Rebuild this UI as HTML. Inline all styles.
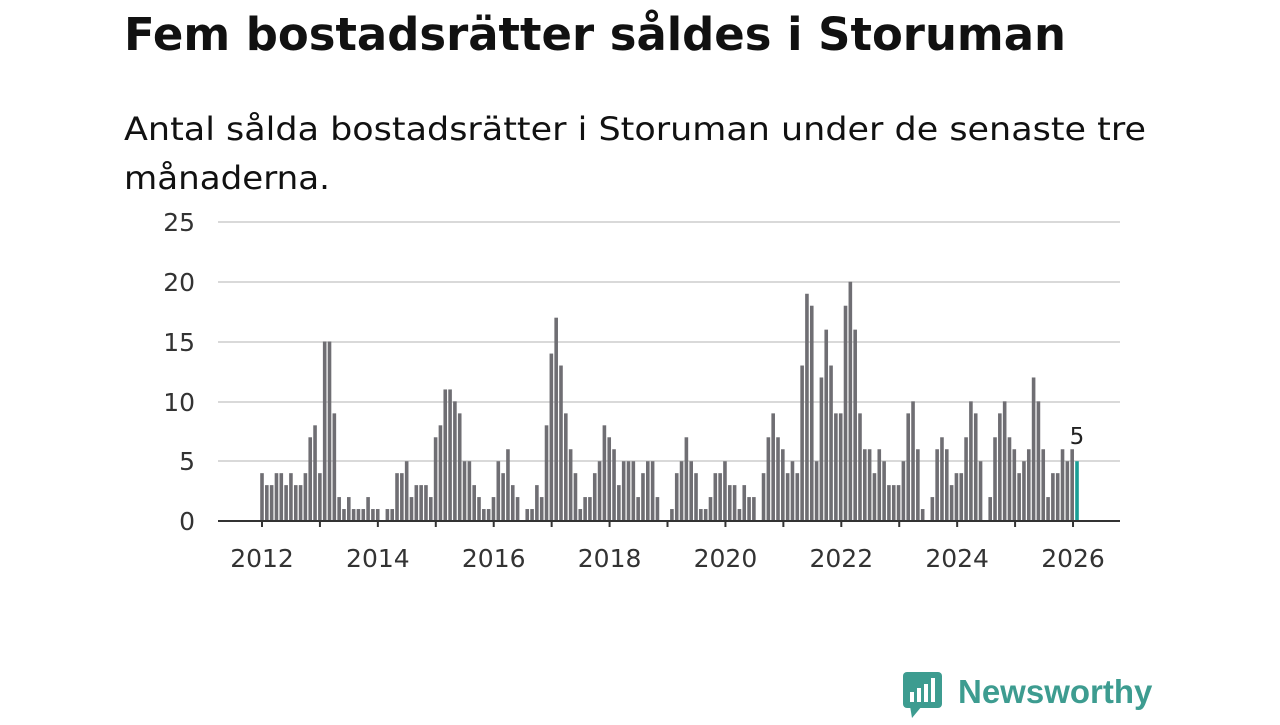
<!DOCTYPE html>
<html><head><meta charset="utf-8"><style>
body{margin:0;width:1280px;height:720px;background:#fff;overflow:hidden;font-family:"Liberation Sans","DejaVu Sans",sans-serif}
</style></head><body>
<svg width="1280" height="720" viewBox="0 0 1280 720" xmlns="http://www.w3.org/2000/svg" id="s">
<text x="124" y="50" font-family="DejaVu Sans, sans-serif" font-weight="bold" font-size="45" fill="#111" textLength="942" lengthAdjust="spacingAndGlyphs">Fem bostadsrätter såldes i Storuman</text>
<text x="124" y="140" font-family="DejaVu Sans, sans-serif" font-size="32" fill="#111" textLength="1022" lengthAdjust="spacingAndGlyphs">Antal sålda bostadsrätter i Storuman under de senaste tre</text>
<text x="124" y="189" font-family="DejaVu Sans, sans-serif" font-size="32" fill="#111" textLength="206" lengthAdjust="spacingAndGlyphs">månaderna.</text>
<g stroke="#d9d9d9" stroke-width="2">
<line x1="218" x2="1120" y1="222" y2="222"/><line x1="218" x2="1120" y1="282" y2="282"/>
<line x1="218" x2="1120" y1="342" y2="342"/><line x1="218" x2="1120" y1="402" y2="402"/>
<line x1="218" x2="1120" y1="461" y2="461"/></g>
<g font-family="DejaVu Sans, sans-serif" font-size="25" fill="#333" text-anchor="end">
<text x="195" y="231">25</text><text x="195" y="291">20</text><text x="195" y="351">15</text>
<text x="195" y="411">10</text><text x="195" y="470">5</text><text x="195" y="530">0</text></g>
<g id="bars"></g>
<line x1="218" x2="1120" y1="521" y2="521" stroke="#333" stroke-width="2"/>
<g id="ticks" stroke="#333" stroke-width="2"></g>
<g id="xl" font-family="DejaVu Sans, sans-serif" font-size="25" fill="#333" text-anchor="middle"></g>
<text x="1077" y="444" font-family="DejaVu Sans, sans-serif" font-size="23" fill="#222" text-anchor="middle">5</text>
<rect x="903" y="672" width="39" height="36" rx="4" fill="#3d9c90"/>
<path d="M910 706 L912 718 L922 706Z" fill="#3d9c90"/>
<g fill="#fff"><rect x="910" y="692" width="4" height="10"/><rect x="917" y="688" width="4" height="14"/><rect x="924" y="684" width="4" height="18"/><rect x="931" y="678" width="4" height="24"/></g>
<text x="958" y="703" font-family="Liberation Sans, sans-serif" font-weight="bold" font-size="33" fill="#3d9c90">Newsworthy</text>
</svg>
<script>
var d=[4,3,3,4,4,3,4,3,3,4,7,8,4,15,15,9,2,1,2,1,1,1,2,1,1,0,1,1,4,4,5,2,3,3,3,2,7,8,11,11,10,9,5,5,3,2,1,1,2,5,4,6,3,2,0,1,1,3,2,8,14,17,13,9,6,4,1,2,2,4,5,8,7,6,3,5,5,5,2,4,5,5,2,0,0,1,4,5,7,5,4,1,1,2,4,4,5,3,3,1,3,2,2,0,4,7,9,7,6,4,5,4,13,19,18,5,12,16,13,9,9,18,20,16,9,6,6,4,6,5,3,3,3,5,9,10,6,1,0,2,6,7,6,3,4,4,7,10,9,5,0,2,7,9,10,7,6,4,5,6,12,10,6,2,4,4,6,5,6,5];
var N=d.length,ns="http://www.w3.org/2000/svg",b=document.getElementById("bars");
var step=(1077-262)/(N-1);
for(var i=0;i<N;i++){var x=262+i*step,h=d[i]*11.96;if(h<=0)continue;
var r=document.createElementNS(ns,"rect");r.setAttribute("x",(x-1.8).toFixed(2));r.setAttribute("width","3.6");
r.setAttribute("y",(521-h).toFixed(2));r.setAttribute("height",h.toFixed(2));r.setAttribute("fill",i==N-1?"#1a9e96":"#6f6e73");b.appendChild(r);}
var t=document.getElementById("ticks"),xl=document.getElementById("xl");
for(var y=2012;y<=2026;y++){var x=262+(y-2012)*57.93;var l=document.createElementNS(ns,"line");
l.setAttribute("x1",x);l.setAttribute("x2",x);l.setAttribute("y1",521);l.setAttribute("y2",527);t.appendChild(l);
if(y%2==0){var tx=document.createElementNS(ns,"text");tx.setAttribute("x",x);tx.setAttribute("y",567);tx.textContent=y;xl.appendChild(tx);}}
</script>
</body></html>
